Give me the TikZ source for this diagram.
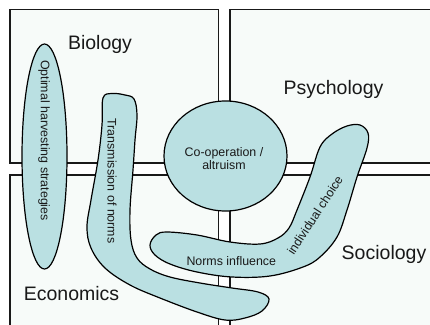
\documentclass[tikz,border=0pt]{standalone}
\usepackage{fontspec}
\setmainfont{Liberation Sans}
\definecolor{boxfill}{RGB}{247,251,249}
\definecolor{blobfill}{RGB}{186,224,226}
\definecolor{inkc}{RGB}{25,25,25}
\tikzset{
  field/.style={draw=inkc, line width=1.3pt, fill=boxfill},
  blob/.style={draw=black, line width=1.2pt, fill=blobfill},
  title/.style={inner sep=0pt, anchor=base, text=inkc, font=\fontsize{19.5}{20}\selectfont},
  small/.style={inner sep=0pt, text=inkc, font=\fontsize{12.4}{13.3}\selectfont, align=center}
}
\begin{document}
\begin{tikzpicture}[x=1pt,y=-1pt]
\useasboundingbox (0,0) rectangle (430,324);
\clip (0,0) rectangle (430,324);
\fill[white] (0,0) rectangle (430,324);
% fields
\draw[field] (10,9.5) rectangle (218.5,163);
\draw[field] (230,9.5) rectangle (445,163);
\draw[field] (10,175) rectangle (218.5,340);
\draw[field] (230,175) rectangle (445,340);
\node[title] (bio) at (100,49.5) {Biology};
\node[title] (psy) at (333.5,94.5) {Psychology};
\node[title] (eco) at (71.5,300) {Economics};
\node[title] (soc) at (384,259) {Sociology};
% optimal harvesting ellipse
\draw[blob] (44.5,156.5) ellipse [x radius=22.5, y radius=112.5];
\node[small, rotate=-90] (opt) at (44,140.5) {Optimal harvesting strategies};
% transmission of norms
\draw[blob] plot[smooth cycle, tension=0.6] coordinates {
 (103,98) (112,93.5) (125,95) (134,99) (137,115) (135,140) (133,170) (130,210)
 (131,240) (137,258) (150,269) (170,277) (200,283) (232,288) (258,292) (269,299)
 (262,311) (245,318) (225,320) (197,312) (160,298) (130,285) (105,268) (91,248)
 (87,227) (91,200) (98,160) (102,125)};
\node[small, rotate=-90] (trn) at (112,181) {Transmission of norms};
% norms influence / individual choice
\draw[blob] plot[smooth cycle, tension=0.6] coordinates {
 (150,245) (156,235) (167,232) (197,235) (230,242) (260,244) (278,238) (289,228)
 (297,210) (310,177) (320,147) (332,134) (347,126) (360,125) (368,133) (367,148)
 (357,177) (347,210) (337,237) (320,257) (303,267) (270,276) (232,277) (197,272)
 (170,264) (155,255)};
\node[small, anchor=base] (nin) at (231.3,265.7) {Norms influence};
\node[small, rotate=57] (ind) at (315,215) {individual choice};
% co-operation ellipse
\draw[blob] (225.5,156) ellipse [x radius=61.5, y radius=55];
\node[small, anchor=base] (coop) at (224,156) {Co-operation /};
\node[small, anchor=base] (alt) at (224,169.3) {altruism};
\end{tikzpicture}
\end{document}
